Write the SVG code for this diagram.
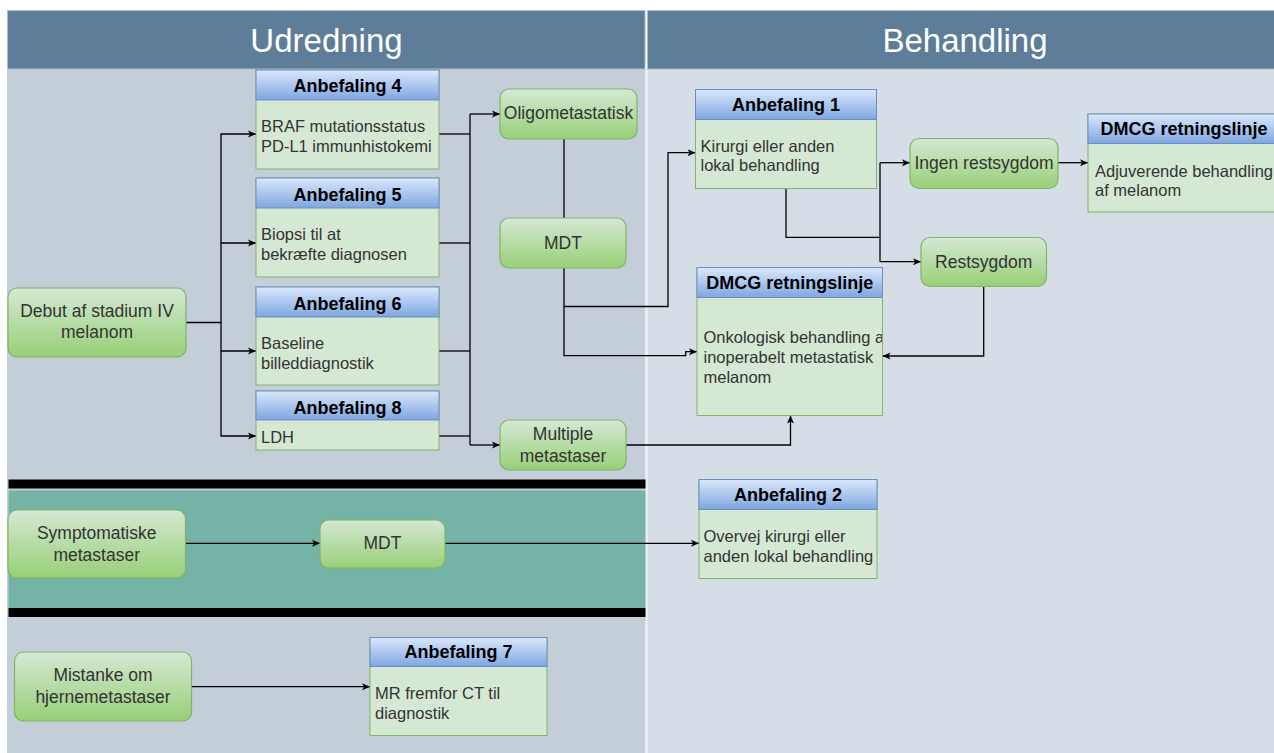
<svg xmlns="http://www.w3.org/2000/svg" width="1274" height="753" viewBox="0 0 1274 753">
<style>
.lane-l{fill:#c3ced8}
.lane-r{fill:#d5dee6}
.hdr{fill:#5d7d99;stroke:#a9bccb;stroke-width:1}
.hdrt{font-family:"Liberation Sans",Arial,sans-serif;font-size:33px;fill:#ffffff;text-anchor:middle}
.body{fill:#d5e8d4;stroke:#82b366;stroke-width:1}
.bh{fill:url(#gBlue);stroke:#6c8ebf;stroke-width:1}
.bht{font-family:"Liberation Sans",Arial,sans-serif;font-size:18px;font-weight:bold;fill:#000;text-anchor:middle}
.bt{font-family:"Liberation Sans",Arial,sans-serif;font-size:16.5px;fill:#333}
.gn{fill:url(#gGreen);stroke:#82b366;stroke-width:1.2}
.gt{font-family:"Liberation Sans",Arial,sans-serif;font-size:17.5px;fill:#333;text-anchor:middle}
.c{fill:none;stroke:#000;stroke-width:1.3}
.ca{fill:none;stroke:#000;stroke-width:1.3;marker-end:url(#arr)}
</style>
<defs>
<linearGradient id="gBlue" x1="0" y1="0" x2="0" y2="1">
<stop offset="0" stop-color="#dae8fc"/>
<stop offset="1" stop-color="#7ea6e0"/>
</linearGradient>
<linearGradient id="gGreen" x1="0" y1="0" x2="0" y2="1">
<stop offset="0" stop-color="#d5e8d4"/>
<stop offset="1" stop-color="#97d077"/>
</linearGradient>
<marker id="arr" markerUnits="userSpaceOnUse" markerWidth="10" markerHeight="10" refX="8" refY="4" orient="auto">
<path d="M0,0.5 L8,4 L0,7.5 L2,4 z" fill="#000"/>
</marker>
<clipPath id="clipDmcg"><rect x="697" y="300" width="185" height="115"/></clipPath>
<clipPath id="clipA2"><rect x="699" y="510" width="177" height="68"/></clipPath>
</defs>

<rect x="0" y="0" width="1274" height="753" fill="#ffffff"/>
<g id="lanes">
<rect class="lane-l" x="7" y="69" width="638" height="684"/>
<rect class="lane-r" x="648" y="69" width="626" height="684"/>
<rect fill="#e9eef2" x="645" y="69" width="3" height="684"/>
<rect x="8.5" y="490.5" width="637" height="117.5" fill="#76b3a7"/>
<rect x="8.5" y="479.5" width="637" height="9" fill="#000"/>
<rect x="8.5" y="608" width="637" height="9" fill="#000"/>
</g>
<g id="headers">
<rect class="hdr" x="7.5" y="10.5" width="637.5" height="58.5"/>
<rect class="hdr" x="647.5" y="10.5" width="630" height="58.5"/>
<text class="hdrt" x="326.5" y="52">Udredning</text>
<text class="hdrt" x="965" y="52">Behandling</text>
</g>

<g id="connectors">
<path class="ca" d="M186,322.5 H221 V134 H256"/>
<path class="ca" d="M221,243 H256"/>
<path class="ca" d="M221,351 H256"/>
<path class="ca" d="M221,322.5 V436 H256"/>
<path class="c" d="M439,134 H470"/>
<path class="c" d="M439,243 H470"/>
<path class="c" d="M439,351 H470"/>
<path class="c" d="M439,436 H470"/>
<path class="c" d="M470,114 V445"/>
<path class="ca" d="M470,114 H500"/>
<path class="ca" d="M470,445 H500"/>
<path class="c" d="M564,139 V218"/>
<path class="ca" d="M564,268 V306.5 H668 V152.7 H695.5"/>
<path class="ca" d="M564,306.5 V355.7 H685.7 V351.7 H697"/>
<path class="c" d="M786,188.5 V237.3 H880"/>
<path class="c" d="M880,162.7 V261.7"/>
<path class="ca" d="M880,162.7 H910"/>
<path class="ca" d="M880,261.7 H921"/>
<path class="ca" d="M1058,162.7 H1088"/>
<path class="ca" d="M983.7,286.5 V356 H882.5"/>
<path class="ca" d="M626,445 H790.5 V415.5"/>
<path class="ca" d="M185.5,543.3 H320"/>
<path class="ca" d="M445,543.3 H699"/>
<path class="ca" d="M191.5,686.7 H370"/>
</g>

<g id="anbefaling4">
<rect class="body" x="256" y="70" width="183" height="99"/>
<rect class="bh" x="256" y="70" width="183" height="30"/>
<text class="bht" x="347.5" y="92.4">Anbefaling 4</text>
<text class="bt" x="261" y="131.6">BRAF mutationsstatus</text>
<text class="bt" x="261" y="151.6">PD-L1 immunhistokemi</text>
</g>
<g id="anbefaling5">
<rect class="body" x="256" y="178" width="183" height="99"/>
<rect class="bh" x="256" y="178" width="183" height="30"/>
<text class="bht" x="347.5" y="201.4">Anbefaling 5</text>
<text class="bt" x="261" y="240.2">Biopsi til at</text>
<text class="bt" x="261" y="260.2">bekræfte diagnosen</text>
</g>
<g id="anbefaling6">
<rect class="body" x="256" y="287" width="183" height="98"/>
<rect class="bh" x="256" y="287" width="183" height="30"/>
<text class="bht" x="347.5" y="309.7">Anbefaling 6</text>
<text class="bt" x="261" y="348.6">Baseline</text>
<text class="bt" x="261" y="368.6">billeddiagnostik</text>
</g>
<g id="anbefaling8">
<rect class="body" x="256" y="391" width="183" height="59"/>
<rect class="bh" x="256" y="391" width="183" height="29"/>
<text class="bht" x="347.5" y="413.7">Anbefaling 8</text>
<text class="bt" x="261" y="442.6">LDH</text>
</g>

<g id="debut">
<rect class="gn" x="8" y="288" width="178" height="69" rx="9"/>
<text class="gt" x="97" y="316.8">Debut af stadium IV</text>
<text class="gt" x="97" y="337.8">melanom</text>
</g>
<g id="oligometastatisk">
<rect class="gn" x="500" y="89" width="137" height="50" rx="9"/>
<text class="gt" x="568.5" y="119.2">Oligometastatisk</text>
</g>
<g id="mdt1">
<rect class="gn" x="500" y="218" width="126" height="50" rx="9"/>
<text class="gt" x="563" y="248.9">MDT</text>
</g>
<g id="multiple">
<rect class="gn" x="500" y="420" width="126" height="50" rx="9"/>
<text class="gt" x="563" y="440.2">Multiple</text>
<text class="gt" x="563" y="461.9">metastaser</text>
</g>

<g id="anbefaling1">
<rect class="body" x="695.5" y="89.5" width="181" height="99"/>
<rect class="bh" x="695.5" y="89.5" width="181" height="30"/>
<text class="bht" x="786" y="110.7">Anbefaling 1</text>
<text class="bt" x="700.5" y="151.6">Kirurgi eller anden</text>
<text class="bt" x="700.5" y="171">lokal behandling</text>
</g>
<g id="dmcg1">
<rect class="body" x="697" y="267.5" width="185.5" height="148"/>
<rect class="bh" x="697" y="267.5" width="185.5" height="30"/>
<text class="bht" x="789.8" y="288.7">DMCG retningslinje</text>
<g clip-path="url(#clipDmcg)">
<text class="bt" x="703.5" y="343.2">Onkologisk behandling af</text>
<text class="bt" x="703.5" y="363.2">inoperabelt metastatisk</text>
<text class="bt" x="703.5" y="383.2">melanom</text>
</g>
</g>
<g id="ingen-restsygdom">
<rect class="gn" x="910" y="138.5" width="148" height="50" rx="9"/>
<text class="gt" x="984" y="168.5">Ingen restsygdom</text>
</g>
<g id="restsygdom">
<rect class="gn" x="921" y="237.5" width="125.5" height="49" rx="9"/>
<text class="gt" x="983.7" y="268.2">Restsygdom</text>
</g>
<g id="dmcg2">
<rect class="body" x="1088" y="114" width="192" height="98"/>
<rect class="bh" x="1088" y="114" width="192" height="29.5"/>
<text class="bht" x="1184" y="135.2">DMCG retningslinje</text>
<text class="bt" x="1095" y="176.9">Adjuverende behandling</text>
<text class="bt" x="1095" y="195.9">af melanom</text>
</g>

<g id="symptomatiske">
<rect class="gn" x="8" y="510" width="177.5" height="68" rx="9"/>
<text class="gt" x="96.7" y="539.4">Symptomatiske</text>
<text class="gt" x="96.7" y="561.1">metastaser</text>
</g>
<g id="mdt2">
<rect class="gn" x="320" y="520" width="125" height="48" rx="9"/>
<text class="gt" x="382.5" y="549.4">MDT</text>
</g>
<g id="anbefaling2">
<rect class="body" x="699" y="479.5" width="178" height="99"/>
<rect class="bh" x="699" y="479.5" width="178" height="30"/>
<text class="bht" x="788" y="500.7">Anbefaling 2</text>
<g clip-path="url(#clipA2)">
<text class="bt" x="703.5" y="541.6">Overvej kirurgi eller</text>
<text class="bt" x="703.5" y="561.6">anden lokal behandling</text>
</g>
</g>

<g id="mistanke">
<rect class="gn" x="14.5" y="652" width="177" height="69" rx="9"/>
<text class="gt" x="103" y="681.1">Mistanke om</text>
<text class="gt" x="103" y="702.8">hjernemetastaser</text>
</g>
<g id="anbefaling7">
<rect class="body" x="370" y="637.5" width="177" height="98"/>
<rect class="bh" x="370" y="637.5" width="177" height="29"/>
<text class="bht" x="458.5" y="658.4">Anbefaling 7</text>
<text class="bt" x="375" y="699.2">MR fremfor CT til</text>
<text class="bt" x="375" y="719.2">diagnostik</text>
</g>
</svg>
